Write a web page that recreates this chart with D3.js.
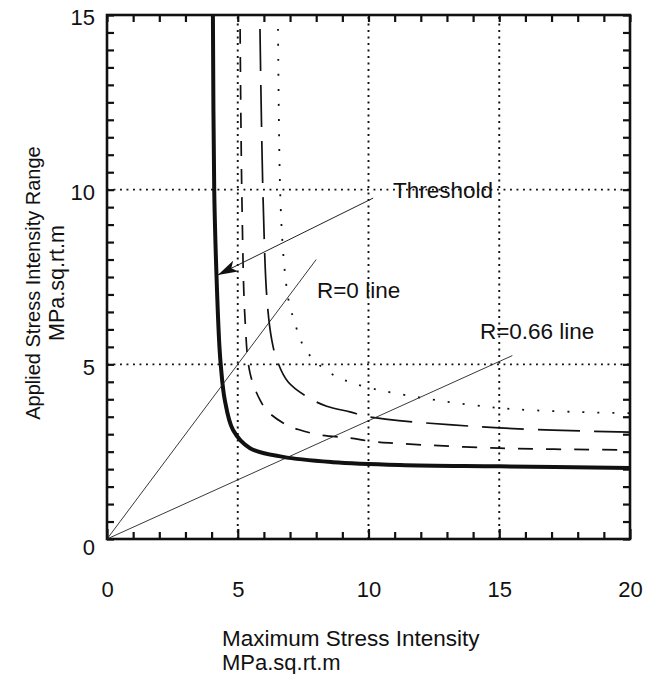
<!DOCTYPE html>
<html>
<head>
<meta charset="utf-8">
<script src="https://cdn.jsdelivr.net/npm/d3@7"></script>
<style>
  body { margin: 0; background: #fff; }
  text { font-family: "Liberation Sans", Arial, sans-serif; fill: #111; }
</style>
</head>
<body>
<div id="chart"></div>
<script>
// curves: [Kmax, deltaK]
var thresholdCurve = [[4.05,15],[4.1,10],[4.18,7.7],[4.3,5.5],[4.36,4.9],[4.5,4.0],[4.82,3.12],[5.47,2.6],[6.73,2.35],[8.64,2.2],[11.2,2.12],[15,2.08],[20,2.03]];
var shortDashCurve = [[5.09,14.6],[5.16,9.7],[5.28,6.27],[5.47,4.75],[5.85,3.98],[6.16,3.64],[6.88,3.26],[7.38,3.12],[8.15,2.98],[9.29,2.89],[10.06,2.8],[10.8,2.75],[15,2.6],[20,2.55]];
var longDashCurve = [[5.85,14.6],[5.97,9.7],[6.12,6.84],[6.3,5.7],[6.5,5.12],[6.92,4.5],[7.65,4.07],[8.4,3.8],[9.29,3.64],[10.06,3.49],[15,3.18],[20,3.06]];
var dottedCurve = [[6.54,14.6],[6.62,10],[6.73,8.27],[6.88,7.13],[7.0,6.64],[7.19,6.18],[7.38,5.73],[7.69,5.32],[8.22,4.92],[8.8,4.64],[9.37,4.47],[10.55,4.24],[15,3.75],[20,3.6]];

var r0Line = [[0,0],[8,8]];
var r066Line = [[0,0],[15.5,5.25]];
var arrowLine = [[10.18,9.76],[4.24,7.56]];

var xTicks = [0,5,10,15,20];
var yTicks = [0,5,10,15];
var gridX = [5,10,15];
var gridY = [5,10];

var labels = [
  {text: "Threshold", x: 10.94, y: 9.76},
  {text: "R=0 line", x: 8.03, y: 6.9},
  {text: "R=0.66 line", x: 14.26, y: 5.73}
];

var width = 660, height = 674;

var svg = d3.select("#chart").append("svg")
  .attr("width", width)
  .attr("height", height);

var x = d3.scaleLinear().domain([0,20]).range([107,630]);
var y = d3.scaleLinear().domain([0,15]).range([539,15]);

// grid
svg.selectAll(".gx").data(gridX).enter().append("line")
  .attr("x1", d => x(d)).attr("x2", d => x(d))
  .attr("y1", y(0)).attr("y2", y(15))
  .attr("stroke", "#111").attr("stroke-width", 1.9)
  .attr("stroke-dasharray", "1.9,4.6");
svg.selectAll(".gy").data(gridY).enter().append("line")
  .attr("x1", x(0)).attr("x2", x(20))
  .attr("y1", d => y(d)).attr("y2", d => y(d))
  .attr("stroke", "#111").attr("stroke-width", 1.9)
  .attr("stroke-dasharray", "1.9,4.6");

// axes
var bottom = svg.append("g").attr("transform", "translate(0," + y(0) + ")")
  .call(d3.axisBottom(x).tickValues(d3.range(0,21,1)).tickSize(-7).tickPadding(42)
    .tickFormat(d => xTicks.indexOf(d) >= 0 ? d : ""));
var top_ = svg.append("g").attr("transform", "translate(0," + y(15) + ")")
  .call(d3.axisTop(x).tickValues(d3.range(0,21,1)).tickSize(-7).tickFormat(""));
var left = svg.append("g").attr("transform", "translate(" + x(0) + ",0)")
  .call(d3.axisLeft(y).tickValues(d3.range(0,15.01,0.5)).tickSize(-7).tickPadding(12)
    .tickFormat(d => yTicks.indexOf(d) >= 0 ? d : ""));
var right = svg.append("g").attr("transform", "translate(" + x(20) + ",0)")
  .call(d3.axisRight(y).tickValues(d3.range(0,15.01,0.5)).tickSize(-7).tickFormat(""));

[bottom, top_, left, right].forEach(function(g) {
  g.select(".domain").remove();
  g.selectAll(".tick line").attr("stroke", "#111").attr("stroke-width", 2.2);
  g.selectAll("text").style("font-size", "22px").attr("fill", "#111");
});
bottom.selectAll(".tick line").attr("y2", d => d % 5 === 0 ? -10 : -7);
left.selectAll(".tick text").attr("dy", d => d === 0 ? "0.7em" : "0.45em");

// frame
svg.append("rect")
  .attr("x", x(0)).attr("y", y(15))
  .attr("width", x(20) - x(0)).attr("height", y(0) - y(15))
  .attr("fill", "none").attr("stroke", "#111").attr("stroke-width", 2.6);

var line = d3.line().x(d => x(d[0])).y(d => y(d[1]));
var smooth = d3.line().x(d => x(d[0])).y(d => y(d[1])).curve(d3.curveCatmullRom.alpha(0.5));

svg.append("path").datum(dottedCurve).attr("d", smooth)
  .attr("fill", "none").attr("stroke", "#111").attr("stroke-width", 1.8)
  .attr("stroke-dasharray", "2,13");
svg.append("path").datum(longDashCurve).attr("d", smooth)
  .attr("fill", "none").attr("stroke", "#111").attr("stroke-width", 1.7)
  .attr("stroke-dasharray", "42,14");
svg.append("path").datum(shortDashCurve).attr("d", smooth)
  .attr("fill", "none").attr("stroke", "#111").attr("stroke-width", 1.7)
  .attr("stroke-dasharray", "15,13");
svg.append("path").datum(thresholdCurve).attr("d", smooth)
  .attr("fill", "none").attr("stroke", "#111").attr("stroke-width", 4);

// R lines
svg.append("path").datum(r0Line).attr("d", line)
  .attr("stroke", "#222").attr("stroke-width", 0.9).attr("fill", "none");
svg.append("path").datum(r066Line).attr("d", line)
  .attr("stroke", "#222").attr("stroke-width", 0.9).attr("fill", "none");

// threshold arrow
svg.append("defs").append("marker")
  .attr("id", "arrow").attr("viewBox", "0 0 20 12")
  .attr("refX", 20).attr("refY", 6)
  .attr("markerWidth", 20).attr("markerHeight", 12)
  .attr("markerUnits", "userSpaceOnUse")
  .attr("orient", "auto")
  .append("path").attr("d", "M0,0 L20,6 L0,12 L5,6 Z").attr("fill", "#111");
svg.append("path").datum(arrowLine).attr("d", line)
  .attr("stroke", "#222").attr("stroke-width", 1).attr("fill", "none")
  .attr("marker-end", "url(#arrow)");

svg.selectAll(".lab").data(labels).enter().append("text")
  .attr("x", d => x(d.x))
  .attr("y", d => y(d.y))
  .style("font-size", "22.5px")
  .text(d => d.text);

// axis titles
svg.append("text").attr("x", 222).attr("y", 646).style("font-size", "22.5px").text("Maximum Stress Intensity");
svg.append("text").attr("x", 222).attr("y", 670).style("font-size", "22px").text("MPa.sq.rt.m");

svg.append("text").attr("transform", "translate(40,283) rotate(-90)")
  .attr("text-anchor", "middle").style("font-size", "20px").text("Applied Stress Intensity Range");
svg.append("text").attr("transform", "translate(64,283) rotate(-90)")
  .attr("text-anchor", "middle").style("font-size", "21.5px").text("MPa.sq.rt.m");
</script>
</body>
</html>
